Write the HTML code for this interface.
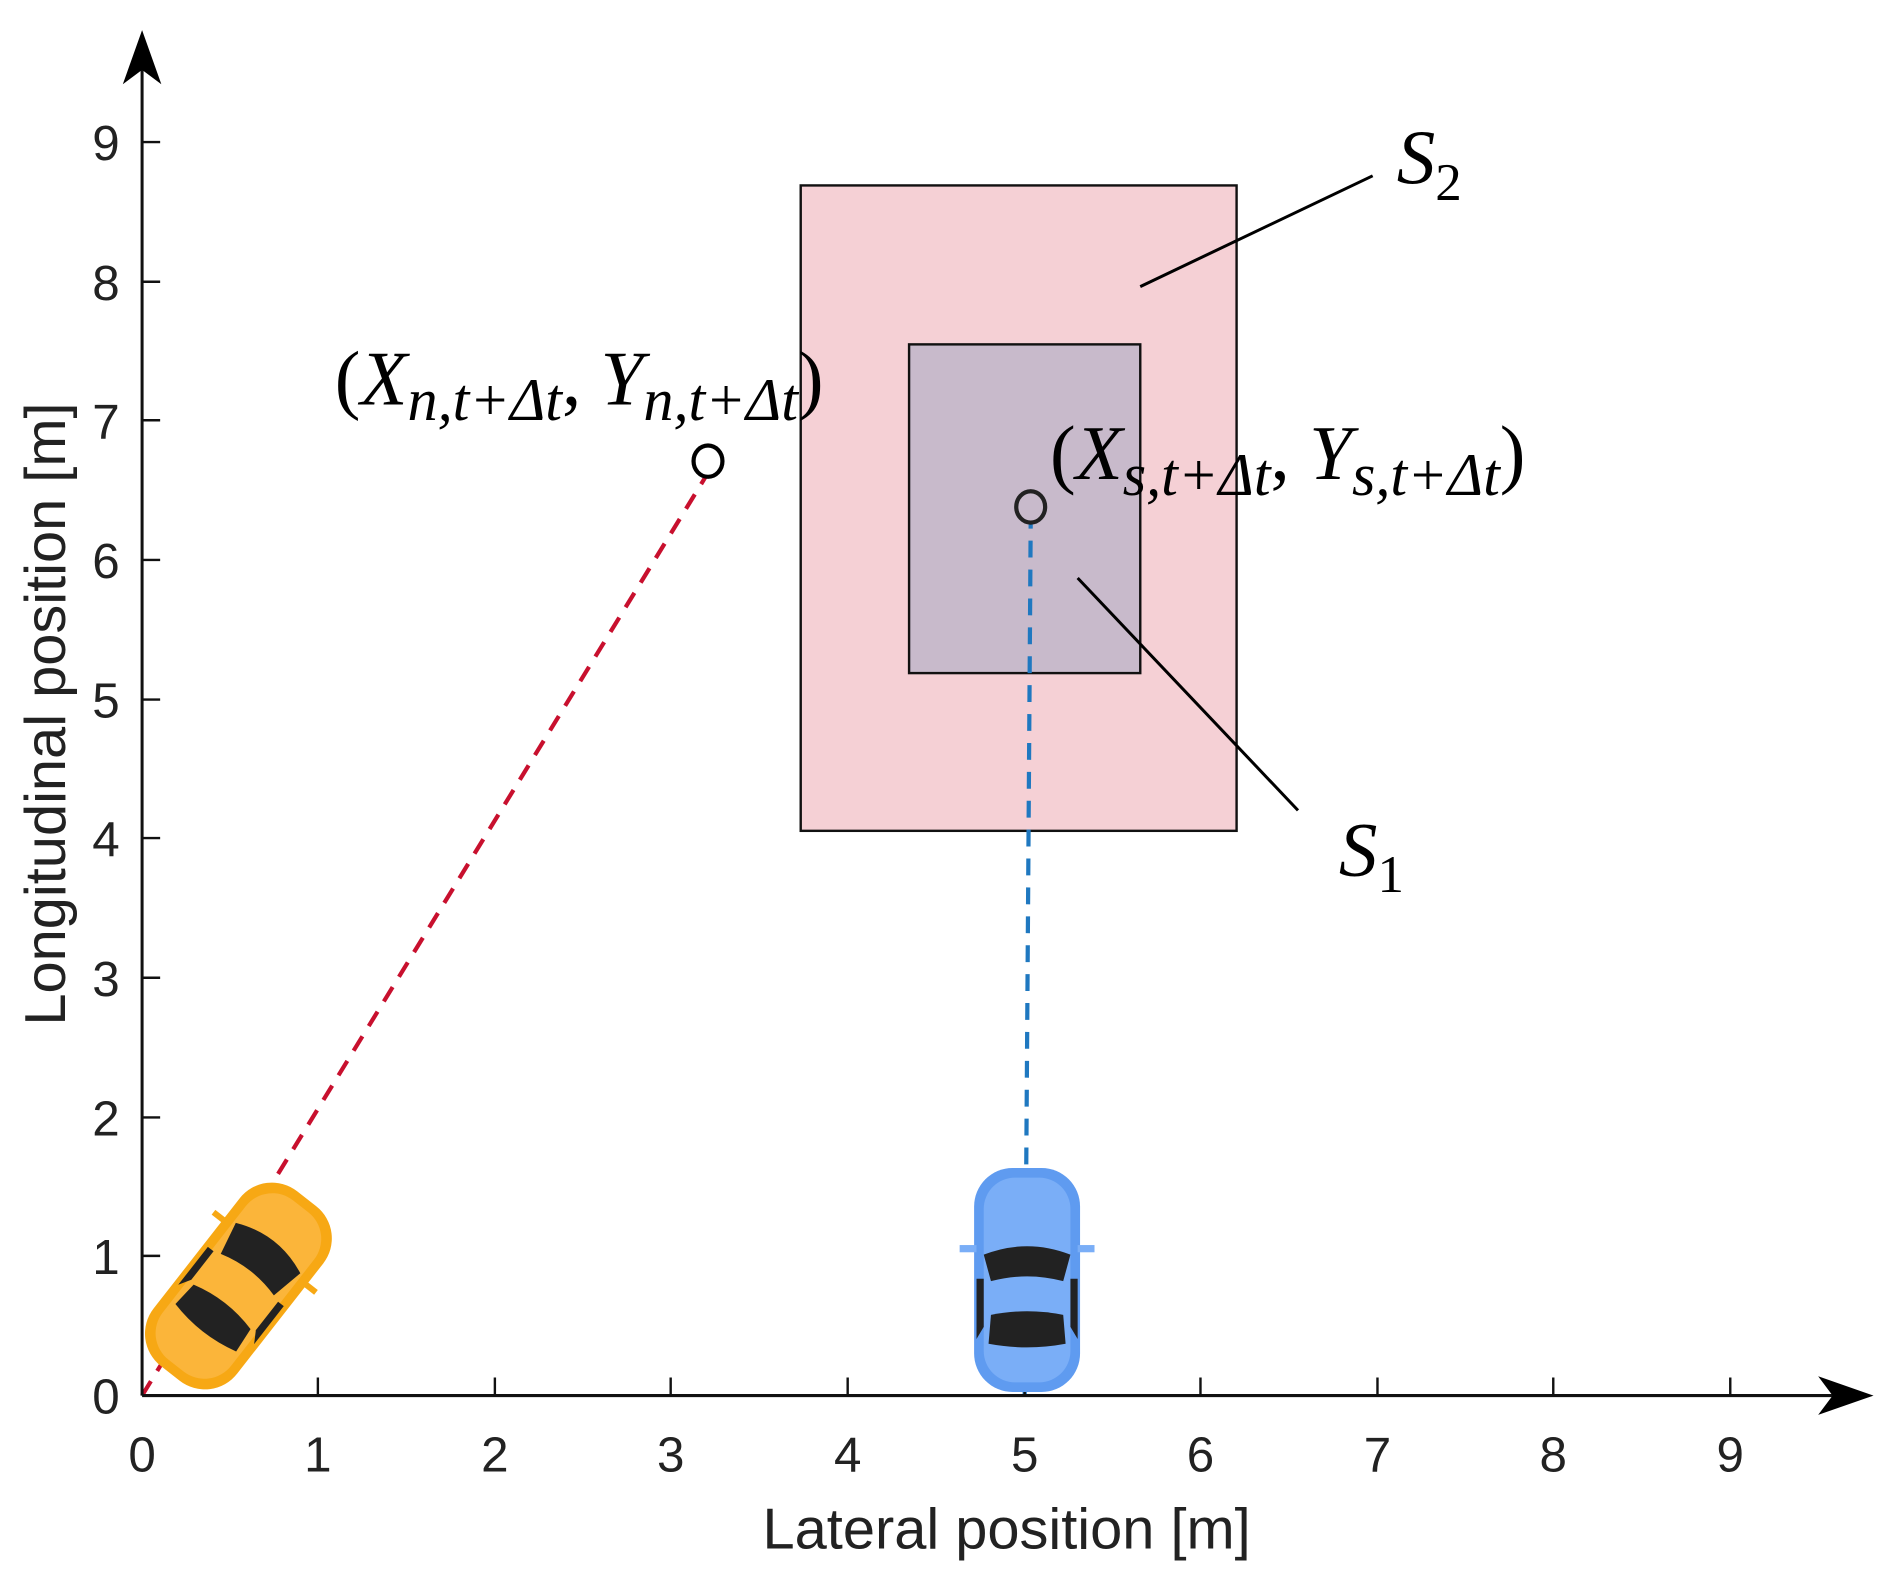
<!DOCTYPE html>
<html><head><meta charset="utf-8"><style>
html,body{margin:0;padding:0;background:#fff;}
svg{display:block;}
.t{font-family:"Liberation Sans",sans-serif;font-size:41px;fill:#222;}
.m{font-family:"Liberation Serif",serif;font-size:64px;fill:#000;}
</style></head><body>
<svg width="1888" height="1581" viewBox="0 0 1568 1313" preserveAspectRatio="none" xmlns="http://www.w3.org/2000/svg">
<rect x="665" y="154" width="362" height="536" fill="#f5d0d5" stroke="#111" stroke-width="2"/>
<rect x="755" y="286" width="192" height="273" fill="#c8bacb" stroke="#111" stroke-width="2"/>
<line x1="947" y1="238" x2="1140" y2="146" stroke="#000" stroke-width="2.5"/>
<line x1="895" y1="480" x2="1078" y2="673" stroke="#000" stroke-width="2.5"/>
<line x1="118" y1="1159" x2="586" y2="396" stroke="#c8102e" stroke-width="3.5" stroke-dasharray="14,10"/>
<line x1="851" y1="1159" x2="856" y2="433" stroke="#1f78c0" stroke-width="3.5" stroke-dasharray="14,10"/>
<ellipse cx="588" cy="383" rx="12" ry="13" fill="none" stroke="#000" stroke-width="3.5"/>
<ellipse cx="856" cy="421" rx="12" ry="13" fill="none" stroke="#222" stroke-width="3.5"/>
<line x1="118" y1="1159" x2="118" y2="40" stroke="#111" stroke-width="2.5"/>
<line x1="118" y1="1159" x2="1540" y2="1159" stroke="#111" stroke-width="2.5"/>
<path d="M118 25 L102 70 L118 58 L134 70 Z" fill="#000"/>
<path d="M1556 1159 L1510 1143 L1522 1159 L1510 1175 Z" fill="#000"/>
<g stroke="#111" stroke-width="2">
<line x1="118" y1="1043" x2="133" y2="1043"/><line x1="118" y1="928" x2="133" y2="928"/>
<line x1="118" y1="812" x2="133" y2="812"/><line x1="118" y1="696" x2="133" y2="696"/>
<line x1="118" y1="581" x2="133" y2="581"/><line x1="118" y1="465" x2="133" y2="465"/>
<line x1="118" y1="349" x2="133" y2="349"/><line x1="118" y1="234" x2="133" y2="234"/>
<line x1="118" y1="118" x2="133" y2="118"/>
<line x1="264" y1="1159" x2="264" y2="1144"/><line x1="411" y1="1159" x2="411" y2="1144"/>
<line x1="557" y1="1159" x2="557" y2="1144"/><line x1="704" y1="1159" x2="704" y2="1144"/>
<line x1="851" y1="1159" x2="851" y2="1144"/><line x1="997" y1="1159" x2="997" y2="1144"/>
<line x1="1144" y1="1159" x2="1144" y2="1144"/><line x1="1290" y1="1159" x2="1290" y2="1144"/>
<line x1="1437" y1="1159" x2="1437" y2="1144"/>
</g>
<g class="t" text-anchor="middle">
<text x="88" y="1174">0</text><text x="88" y="1058">1</text><text x="88" y="943">2</text>
<text x="88" y="827">3</text><text x="88" y="711">4</text><text x="88" y="596">5</text>
<text x="88" y="480">6</text><text x="88" y="364">7</text><text x="88" y="249">8</text>
<text x="88" y="133">9</text>
</g>
<g class="t" text-anchor="middle">
<text x="118" y="1222">0</text><text x="264" y="1222">1</text><text x="411" y="1222">2</text>
<text x="557" y="1222">3</text><text x="704" y="1222">4</text><text x="851" y="1222">5</text>
<text x="997" y="1222">6</text><text x="1144" y="1222">7</text><text x="1290" y="1222">8</text>
<text x="1437" y="1222">9</text>
</g>
<text class="t" x="836" y="1286" text-anchor="middle" style="font-size:48px">Lateral position [m]</text>
<text class="t" transform="translate(54,593) rotate(-90)" text-anchor="middle" style="font-size:48px">Longitudinal position [m]</text>
<text class="m" x="278" y="336">(<tspan font-style="italic">X</tspan><tspan font-style="italic" font-size="50" dy="13">n,t+Δt</tspan><tspan dy="-13">,</tspan><tspan font-style="italic"> Y</tspan><tspan font-style="italic" font-size="50" dy="13">n,t+Δt</tspan><tspan dy="-13">)</tspan></text>
<text class="m" x="872" y="398">(<tspan font-style="italic">X</tspan><tspan font-style="italic" font-size="50" dy="13">s,t+Δt</tspan><tspan dy="-13">,</tspan><tspan font-style="italic"> Y</tspan><tspan font-style="italic" font-size="50" dy="13">s,t+Δt</tspan><tspan dy="-13">)</tspan></text>
<text class="m" x="1160" y="152"><tspan font-style="italic">S</tspan><tspan font-size="44" dy="14">2</tspan></text>
<text class="m" x="1112" y="727"><tspan font-style="italic">S</tspan><tspan font-size="44" dy="14">1</tspan></text>
<g transform="translate(198,1068) rotate(38)">
<rect x="-44" y="-92" width="88" height="184" rx="34" fill="#f7a814"/>
<rect x="-36" y="-84" width="72" height="168" rx="28" fill="#fbb53a"/>
<path d="M-34 -40 Q0 -55 34 -40 L28 -12 Q0 -20 -28 -12 Z" fill="#222"/>
<path d="M-30 22 Q0 14 30 22 L32 44 Q0 52 -32 44 Z" fill="#222"/>
<path d="M-40 -10 L-34 -10 L-34 20 L-40 30 Z" fill="#222"/>
<path d="M40 -10 L34 -10 L34 20 L40 30 Z" fill="#222"/>
<rect x="-54" y="-38" width="12" height="5" fill="#f7a814"/><rect x="42" y="-38" width="12" height="5" fill="#f7a814"/>
</g>
<g transform="translate(853,1062)">
<rect x="-44" y="-92" width="88" height="186" rx="32" fill="#5f9bf0"/>
<rect x="-36" y="-84" width="72" height="170" rx="26" fill="#7aaef7"/>
<path d="M-36 -20 Q0 -34 36 -20 L30 2 Q0 -6 -30 2 Z" fill="#222"/>
<path d="M-30 30 Q0 24 30 30 L32 54 Q0 60 -32 54 Z" fill="#222"/>
<path d="M-42 0 L-36 0 L-36 40 L-42 50 Z" fill="#222"/>
<path d="M42 0 L36 0 L36 40 L42 50 Z" fill="#222"/>
<rect x="-56" y="-28" width="14" height="6" fill="#7aaef7"/><rect x="42" y="-28" width="14" height="6" fill="#7aaef7"/>
</g>
</svg>
</body></html>
